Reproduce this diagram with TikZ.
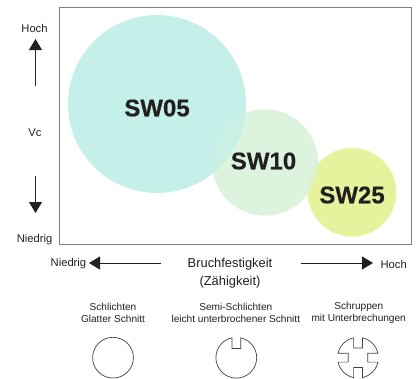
\documentclass[tikz,border=0pt]{standalone}
\usepackage{fontspec}
\setmainfont{Liberation Sans}
\newfontfamily\heavyfont[UprightFont=* Bold,FakeBold=0.5]{Liberation Sans}
\usetikzlibrary{arrows.meta}
\definecolor{cA}{HTML}{C5F0E9}
\definecolor{cB}{HTML}{DCF3DE}
\definecolor{cC}{HTML}{E7F29D}
\definecolor{cAB}{HTML}{C9F0E5}
\definecolor{cBC}{HTML}{DDF2C6}
\definecolor{ink}{HTML}{231F20}
\definecolor{frameC}{HTML}{808080}
\tikzset{
  axisarrow/.style={draw=ink,line width=0.8pt,-{Triangle[length=11pt,width=13pt]}},
  bubbletext/.style={font=\fontsize{24}{24}\selectfont\heavyfont,text=ink,inner sep=0pt},
  axistext/.style={font=\fontsize{11.2}{12}\selectfont,text=ink,inner sep=0pt},
  maintext/.style={font=\fontsize{12.9}{13}\selectfont,text=ink,inner sep=0pt},
  smalltext/.style={font=\fontsize{10.1}{12.3}\selectfont,text=ink,inner sep=0pt,align=center},
  cutshape/.style={draw=ink!85,line width=0.7pt},
}
\begin{document}
\begin{tikzpicture}[x=1pt,y=-1pt]
\useasboundingbox (0,0) rectangle (419,378);
% bubbles
\fill[cA] (157,104) circle[radius=89];
\fill[cB] (265,162.5) circle[radius=53.2];
\fill[cC] (352,192.3) circle[radius=44.3];
\begin{scope}
  \clip (157,104) circle[radius=89];
  \fill[cAB] (265,162.5) circle[radius=53.2];
\end{scope}
\begin{scope}
  \clip (352,192.3) circle[radius=44.3];
  \fill[cBC] (265,162.5) circle[radius=53.2];
\end{scope}
% frame
\draw[frameC,line width=1pt] (59,7) rectangle (411,244.5);
% bubble labels
\node[bubbletext] (sw05) at (157,108) {SW05};
\node[bubbletext] (sw10) at (263.5,161) {SW10};
\node[bubbletext] (sw25) at (352,195) {SW25};
% vertical axis
\node[axistext] (hochY) at (34.5,28) {Hoch};
\node[axistext] (vc) at (35,132.5) {Vc};
\node[axistext] (niedrigY) at (34.5,240) {Niedrig};
\coordinate (upS) at (35.5,86);
\coordinate (upE) at (35.5,39);
\coordinate (dnS) at (35.5,176);
\coordinate (dnE) at (35.5,213);
\draw[axisarrow] (upS) -- (upE);
\draw[axisarrow] (dnS) -- (dnE);
% horizontal axis
\node[axistext,anchor=west] (niedrigX) at (50.5,263.5) {Niedrig};
\node[maintext] (bruch) at (230,264.5) {Bruchfestigkeit};
\node[maintext] (zaeh) at (230,282.5) {(Zähigkeit)};
\node[axistext] (hochX) at (393.7,264) {Hoch};
\coordinate (lfS) at (161,263);
\coordinate (lfE) at (89,263);
\coordinate (rtS) at (301,263);
\coordinate (rtE) at (373,263);
\draw[axisarrow] (lfS) -- (lfE);
\draw[axisarrow] (rtS) -- (rtE);
% captions
\node[smalltext] (capA) at (113,312.8) {Schlichten\\Glatter Schnitt};
\node[smalltext] (capB) at (235.8,312.8) {Semi-Schlichten\\leicht unterbrochener Schnitt};
\node[smalltext] (capC) at (358.7,312.8) {Schruppen\\mit Unterbrechungen};
% cut shapes
\draw[cutshape] (113,357.7) circle[radius=20.4];
\begin{scope}[shift={(236.3,357.7)}]
  \draw[cutshape] (-4.4,-9.2) -- (4.4,-9.2) -- (4.4,-19.92)
    arc[start angle=-77.55,end angle=257.55,radius=20.4]
    -- cycle;
\end{scope}
\begin{scope}[shift={(358,357.7)}]
  \draw[cutshape] (-4.4,-9.7) -- (4.4,-9.7) -- (4.4,-19.92)
    arc[start angle=-77.55,end angle=-12.45,radius=20.4]
    -- (9.7,-4.4) -- (9.7,4.4) -- (19.92,4.4)
    arc[start angle=12.45,end angle=77.55,radius=20.4]
    -- (4.4,9.7) -- (-4.4,9.7) -- (-4.4,19.92)
    arc[start angle=102.45,end angle=167.55,radius=20.4]
    -- (-9.7,4.4) -- (-9.7,-4.4) -- (-19.92,-4.4)
    arc[start angle=192.45,end angle=257.55,radius=20.4]
    -- cycle;
\end{scope}
\end{tikzpicture}
\end{document}
